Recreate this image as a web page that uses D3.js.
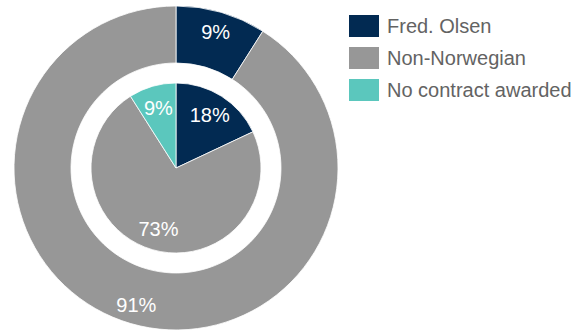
<!DOCTYPE html>
<html>
<head>
<meta charset="utf-8">
<script src="https://cdn.jsdelivr.net/npm/d3@7"></script>
<style>
  html, body { margin: 0; padding: 0; background: #fff; }
  svg { display: block; font-family: "Liberation Sans", Arial, sans-serif; }
</style>
</head>
<body>
<svg id="chart" width="584" height="331"></svg>
<script>
// Categories and the two rings of shares (percent)
const categories = ["Fred. Olsen", "Non-Norwegian", "No contract awarded"];
const colors = ["#022a52", "#979797", "#5bc7bd"];
// Outer ring
const outerValues = [9, 91, 0];
// Inner pie
const innerValues = [18, 73, 9];

const svg = d3.select("#chart");
const cx = 176, cy = 168;

const color = d3.scaleOrdinal().domain(categories).range(colors);
const pie = d3.pie().sort(null).value(d => d.value);

function rows(values) {
  return categories.map((c, i) => ({ cat: c, value: values[i] })).filter(d => d.value > 0);
}

const g = svg.append("g").attr("transform", `translate(${cx},${cy})`);

// Outer ring
const outerArc = d3.arc().innerRadius(105).outerRadius(162);
const outerLabelArc = d3.arc().innerRadius(142).outerRadius(142);
const outerPie = pie(rows(outerValues));
g.append("g").selectAll("path").data(outerPie).join("path")
  .attr("d", outerArc)
  .attr("fill", d => color(d.data.cat))
  .attr("stroke", "#fff").attr("stroke-width", 0.8);

// Inner pie
const innerArc = d3.arc().innerRadius(0).outerRadius(85);
const innerLabelArc = d3.arc().innerRadius(63).outerRadius(63);
const innerPie = pie(rows(innerValues));
g.append("g").selectAll("path").data(innerPie).join("path")
  .attr("d", innerArc)
  .attr("fill", d => color(d.data.cat))
  .attr("stroke", "#fff").attr("stroke-width", 0.8);

// Percentage labels
function labels(data, arcGen) {
  g.append("g").selectAll("text").data(data).join("text")
    .attr("transform", d => `translate(${arcGen.centroid(d)})`)
    .attr("text-anchor", "middle")
    .attr("dy", "0.36em")
    .attr("fill", "#fff")
    .attr("font-size", 20)
    .text(d => d.data.value + "%");
}
labels(outerPie, outerLabelArc);
labels(innerPie, innerLabelArc);

// Legend
const legend = svg.append("g").attr("transform", "translate(349,15)");
const item = legend.selectAll("g").data(categories).join("g")
  .attr("transform", (d, i) => `translate(0,${i * 32})`);
item.append("rect").attr("width", 30).attr("height", 22).attr("fill", d => color(d));
item.append("text")
  .attr("x", 38).attr("y", 11).attr("dy", "0.36em")
  .attr("font-size", 20).attr("fill", "#636363")
  .text(d => d);
</script>
</body>
</html>
